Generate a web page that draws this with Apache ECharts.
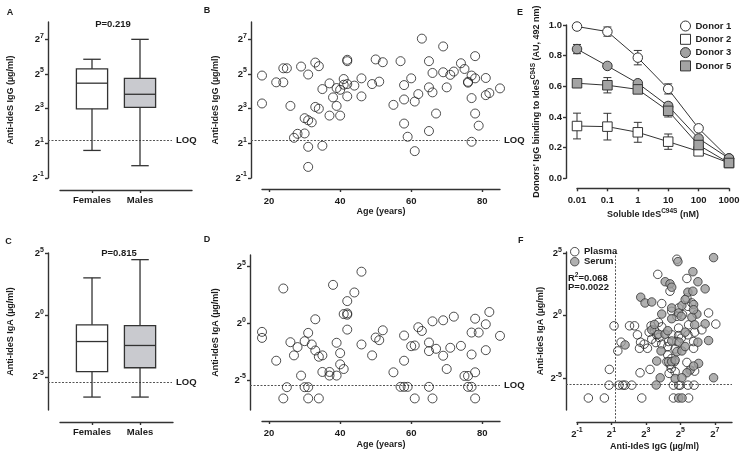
<!DOCTYPE html>
<html>
<head>
<meta charset="utf-8">
<script src="https://cdn.jsdelivr.net/npm/echarts@6/dist/echarts.min.js"></script>
<style>
  html, body { margin: 0; padding: 0; background: #fff; }
  #chart { width: 745px; height: 455px; }
</style>
</head>
<body>
<div id="chart"></div>
<script>
// antibody levels are kept as log2(µg/ml)

var sexGroups = ['Females', 'Males'];
// [min, Q1, median, Q3, max]
var igGBoxFemales = [0.59, 2.99, 4.47, 5.29, 5.85];
var igGBoxMales = [-0.29, 3.08, 3.83, 4.75, 7.0];
var igABoxFemales = [-6.65, -4.59, -2.14, -0.78, 3.03];
var igABoxMales = [-6.65, -4.27, -2.46, -0.84, 4.51];
var loqIgG = 1.22;
var loqIgA = -5.44;

var ageIgG = [18, 18, 22, 24, 24, 25, 26, 29, 31, 33, 34, 30, 31, 32, 30, 28, 27, 31, 35, 31,
  33, 34, 35, 37, 38, 39, 37, 39, 40, 41, 41, 42, 42, 42, 42, 40, 44, 46, 46, 49,
  50, 51, 52, 55, 57, 58, 60, 58, 61, 62, 63, 65, 66, 65, 66, 67, 58, 59, 65, 61,
  69, 69, 71, 72, 70, 74, 75, 76, 76, 77, 78, 78, 77, 78, 79, 77, 81, 81, 82, 85];
var igGLog2 = [4.91, 3.30, 4.52, 4.52, 5.33, 5.33, 3.16, 5.43, 4.97, 5.66, 5.45, 2.45, 2.33, 2.21, 1.57, 1.55, 1.32, 0.80, 0.86, -0.36,
  3.10, 3.00, 4.13, 4.46, 3.65, 3.16, 2.60, 4.19, 4.09, 4.71, 4.38, 4.42, 3.71, 5.82, 5.74, 2.60, 4.33, 4.75, 3.71, 4.42,
  5.84, 4.56, 5.68, 3.22, 5.74, 4.36, 4.75, 3.53, 3.41, 3.84, 7.04, 5.74, 5.06, 4.23, 3.94, 2.72, 2.14, 1.38, 1.71, 0.55,
  6.59, 5.10, 4.95, 5.14, 4.23, 5.62, 5.29, 4.55, 4.50, 4.91, 6.03, 4.75, 3.61, 2.72, 2.02, 1.09, 4.77, 3.78, 3.90, 4.17];

var ageIgA = [18, 18, 22, 24, 25, 24, 26, 28, 27, 30, 31, 32, 33, 34, 35, 33, 29, 30, 31, 31,
  34, 35, 37, 37, 38, 39, 40, 40, 41, 39, 42, 41, 42, 42, 42, 44, 46, 46, 49, 50,
  51, 52, 55, 57, 58, 59, 58, 58, 60, 61, 62, 63, 61, 65, 65, 66, 67, 65, 66, 69,
  69, 70, 71, 72, 74, 75, 76, 76, 77, 77, 78, 77, 79, 78, 78, 81, 81, 82, 85];
var igALog2 = [-0.77, -1.30, -3.31, 3.05, -5.64, -6.63, -1.68, -2.11, -2.84, -1.59, -0.86, -1.88, -2.41, -2.96, -2.84, 0.34, -4.62, -5.64, -5.64, -6.63,
  -6.63, -4.30, -4.30, -4.62, 3.37, -1.73, -2.64, -3.63, -4.04, -4.62, 1.94, 0.80, 0.86, 0.74, -0.57, 2.70, 4.53, -1.88, -2.84, -1.27,
  -1.50, -0.63, -4.33, -5.61, -5.61, -5.61, -1.09, -3.31, -2.03, -1.97, -0.36, -0.69, -6.63, -1.71, -2.46, 0.16, -2.26, -5.61, -6.63, 0.25,
  -2.87, -4.04, -2.17, 0.57, -2.00, -4.65, -4.65, -5.61, -5.61, -2.76, 0.39, -0.83, -0.83, -4.33, -6.63, -0.10, -2.38, 0.98, -1.12];

var plasmaIgG = [-0.34, 0.59, 2.76, 4.60, 5.48, 0.86, 1.44, 1.66, 1.79, 2.18, 4.60, 4.90, 4.99, 5.44, 5.80,
  0.88, 2.66, 3.24, 1.15, 2.05, 2.34, 1.37, 1.56, 2.51, 2.69, 2.90, 2.63, 3.09, 3.30, 3.73,
  3.92, 3.92, 3.69, 5.38, 3.34, 3.58, 3.77, 3.92, 4.31, 4.50, 3.19, 3.50, 3.63, 4.27, 4.70,
  4.27, 4.50, 4.40, 4.66, 4.22, 4.47, 4.35, 4.70, 4.50, 4.90, 4.80, 5.13, 5.48, 4.90, 5.44,
  5.38, 5.67, 4.80, 5.05, 4.90, 5.83, 5.77, 6.25, 5.77, 6.64, 7.06, 5.44, 5.38, 4.80, 4.40, 5.83];
var plasmaIgA = [-6.59, -6.59, -6.59, -6.59, -6.59, -5.56, -5.56, -5.56, -5.56, -5.56, -5.56, -5.56, -5.56, -5.56, -5.56,
  -4.30, -4.57, -4.30, -0.81, -0.81, -0.81, -2.82, -2.12, -1.53, -2.12, -2.28, -2.61, -2.61, -0.81, -0.54,
  -0.89, 0.97, 3.31, 2.98, -1.88, -2.15, -1.75, -2.28, -2.07, -1.53, -1.32, -1.16, -1.53, -2.47, -2.66,
  -3.15, -3.42, -3.90, -3.68, -3.68, -4.22, -4.62, -4.49, 0.35, 0.62, -0.05, 0.08, -0.73, -0.99, 0.75,
  1.42, 1.02, -2.07, -1.80, -1.59, -1.32, -2.07, -1.13, -2.61, 0.22, -0.67, -1.53, -3.74, 4.52, 1.96, -4.44];
var serumIgG = [6.93, 4.86, 5.73, 6.02, 4.12, 4.40, 4.50, 5.44, 5.73, 6.44, 2.70, 2.95, 3.34, 4.50, 5.09,
  5.28, 5.77, 5.96, 3.92, 4.50, 4.90, 5.05, 5.67, 5.83, 3.34, 3.73, 4.12, 4.50, 4.93, 5.28,
  6.44, 6.02, 6.64, 1.79, 3.88, 3.63, 4.31, 4.50, 4.70, 4.80, 5.09, 5.28, 6.06, 5.57, 5.38,
  5.77, 3.83, 4.70, 5.09, 6.93, 3.60, 4.90, 5.10, 5.77, 4.27, 3.50];
var serumIgA = [4.65, 4.33, 3.52, 2.72, 2.72, 2.55, 2.28, 1.88, 1.96, 2.15, 1.48, 1.02, 1.10, 0.62, 0.81,
  1.29, 0.89, 0.13, 0.13, -0.24, 0.22, -0.05, -0.13, -0.73, -1.13, -1.48, -1.48, -2.02, -2.12, -1.32,
  -0.65, -2.12, -1.99, -2.34, -2.82, -3.63, -3.68, -3.68, -3.55, -2.88, -2.82, -2.47, -3.82, -4.35, -4.57,
  -4.03, -4.97, -5.03, -4.97, -4.97, -5.55, -6.59, -6.59, 0.48, -1.20, -0.70];

var concNM = [0.01, 0.1, 1, 10, 100, 1000];
var donorNames = ['Donor 1', 'Donor 2', 'Donor 3', 'Donor 5'];
var donor1 = [0.99, 0.957, 0.787, 0.583, 0.326, 0.13];
var donor2 = [0.341, 0.337, 0.30, 0.239, 0.176, 0.10];
var donor3 = [0.843, 0.733, 0.62, 0.472, 0.26, 0.13];
var donor5 = [0.62, 0.607, 0.58, 0.44, 0.217, 0.10];
var donor1Err = [0.02, 0.03, 0.047, 0.033, 0.0, 0.0];
var donor2Err = [0.084, 0.087, 0.065, 0.05, 0.01, 0.0];
var donor3Err = [0.03, 0.01, 0.0, 0.02, 0.0, 0.0];
var donor5Err = [0.025, 0.05, 0.02, 0.04, 0.015, 0.0];

// ---- styling ----
var FONT = '"Liberation Sans", Arial, Helvetica, sans-serif';
var AX = '#333333';
var TXT = '#1c1c1c';
var BOX_SLOT = [2, 5];           // x positions of the two boxes
var boxFills = ['#ffffff', '#c9cacf'];

var supRich = {
  b: {fontFamily: FONT, fontSize: 9.5, fontWeight: 'bold', color: TXT},
  s: {fontFamily: FONT, fontSize: 7, fontWeight: 'bold', color: TXT, verticalAlign: 'top', padding: [0, 0, 7, 0]}
};
var nameStyle = {
  fontFamily: FONT, fontSize: 9, fontWeight: 'bold', color: TXT,
  rich: {s: {fontFamily: FONT, fontSize: 6.5, fontWeight: 'bold', color: TXT, verticalAlign: 'top', padding: [0, 0, 7, 0]}}
};
function pow2(v) { return '{b|2}{s|' + v + '}'; }

function axisBase(gi, offset) {
  return {
    gridIndex: gi, offset: offset,
    axisLine: {show: true, onZero: false, lineStyle: {color: AX, width: 1.4}},
    axisTick: {show: true, length: 3, lineStyle: {color: AX, width: 1.4}},
    splitLine: {show: false},
    nameLocation: 'middle', nameMoveOverlap: false, nameTextStyle: nameStyle
  };
}
function log2Axis(gi, offset, min, max, ticks, name, nameGap, margin) {
  var a = axisBase(gi, offset);
  a.type = 'value'; a.min = min; a.max = max;
  a.axisTick.customValues = ticks;
  a.axisLabel = {customValues: ticks, margin: margin, formatter: pow2, rich: supRich};
  a.name = name; a.nameGap = nameGap;
  return a;
}
function plainAxis(gi, offset, extra) {
  var a = axisBase(gi, offset);
  a.axisLabel = {fontFamily: FONT, fontSize: 9.5, fontWeight: 'bold', color: TXT, margin: 7};
  for (var k in extra) {
    if (k === 'axisLabel') Object.assign(a.axisLabel, extra[k]);
    else if (k === 'axisTick') Object.assign(a.axisTick, extra[k]);
    else a[k] = extra[k];
  }
  return a;
}

function pairs(xs, ys) { return xs.map(function (x, i) { return [x, ys[i]]; }); }

function renderBox(params, api) {
  var x = api.value(0);
  var p = [1, 2, 3, 4, 5].map(function (i) { return api.coord([x, api.value(i)]); });
  var w = api.size([1.95, 0])[0];
  var cx = p[0][0];
  var cap = w * 0.28;
  var st = {stroke: AX, lineWidth: 1.3};
  return {type: 'group', children: [
    {type: 'line', shape: {x1: cx, y1: p[0][1], x2: cx, y2: p[4][1]}, style: st},
    {type: 'rect', shape: {x: cx - w / 2, y: p[3][1], width: w, height: p[1][1] - p[3][1]},
      style: {fill: boxFills[params.dataIndex], stroke: AX, lineWidth: 1.3}},
    {type: 'line', shape: {x1: cx - w / 2, y1: p[2][1], x2: cx + w / 2, y2: p[2][1]}, style: st},
    {type: 'line', shape: {x1: cx - cap, y1: p[0][1], x2: cx + cap, y2: p[0][1]}, style: st},
    {type: 'line', shape: {x1: cx - cap, y1: p[4][1], x2: cx + cap, y2: p[4][1]}, style: st}
  ]};
}
function boxSeries(gi, females, males) {
  return {
    type: 'custom', xAxisIndex: gi, yAxisIndex: gi, silent: true,
    encode: {x: 0, y: [1, 2, 3, 4, 5]},
    data: [[BOX_SLOT[0]].concat(females), [BOX_SLOT[1]].concat(males)],
    renderItem: renderBox
  };
}

var dashStyle = {stroke: '#555', lineWidth: 1, lineDash: [2, 1.5]};
function loqSeries(gi, xAt, loq, padLeft, trimRight) {
  return {
    type: 'custom', xAxisIndex: gi, yAxisIndex: gi, silent: true, z: 1,
    encode: {x: 0, y: 1}, data: [[xAt, loq]],
    renderItem: function (params, api) {
      var cs = params.coordSys;
      var y = Math.round(api.coord([api.value(0), api.value(1)])[1]) + 0.5;
      var x2 = cs.x + cs.width - trimRight;
      return {type: 'group', children: [
        {type: 'line', shape: {x1: cs.x - padLeft, y1: y, x2: x2, y2: y}, style: dashStyle},
        {type: 'text', x: x2 + 4, y: y, style: {text: 'LOQ', fontFamily: FONT, fontSize: 9.5, fontWeight: 'bold',
          fill: TXT, align: 'left', verticalAlign: 'middle'}}
      ]};
    }
  };
}

function openScatter(gi, name, data, size) {
  return {
    type: 'scatter', name: name, xAxisIndex: gi, yAxisIndex: gi, data: data, symbol: 'circle',
    symbolSize: size, silent: true,
    itemStyle: {color: 'rgba(255,255,255,0)', borderColor: '#222', borderWidth: 1}
  };
}

var donorData = [donor1, donor2, donor3, donor5];
var donorErr = [donor1Err, donor2Err, donor3Err, donor5Err];
var donorSymbols = ['circle', 'rect', 'circle', 'rect'];
var donorFills = ['#ffffff', '#ffffff', '#a3a3a3', '#a3a3a3'];

var errRows = [];
donorData.forEach(function (d, k) {
  concNM.forEach(function (c, i) { errRows.push([c, d[i], donorErr[k][i]]); });
});

var series = [
  boxSeries(0, igGBoxFemales, igGBoxMales),
  loqSeries(0, 0, loqIgG, 12, 20),
  openScatter(1, 'IgG age', pairs(ageIgG, igGLog2), 9),
  loqSeries(1, 20, loqIgG, 11, 0),
  boxSeries(2, igABoxFemales, igABoxMales),
  loqSeries(2, 0, loqIgA, 12, 1),
  openScatter(3, 'IgA age', pairs(ageIgA, igALog2), 9),
  loqSeries(3, 20, loqIgA, 12, 0),
  {
    type: 'custom', xAxisIndex: 4, yAxisIndex: 4, silent: true, z: 2,
    encode: {x: 0, y: 1}, data: errRows,
    renderItem: function (params, api) {
      var c = api.value(0), v = api.value(1), e = api.value(2);
      var t = api.coord([c, v + e]), b = api.coord([c, v - e]);
      var st = {stroke: AX, lineWidth: 1};
      return {type: 'group', children: [
        {type: 'line', shape: {x1: t[0], y1: t[1], x2: b[0], y2: b[1]}, style: st},
        {type: 'line', shape: {x1: t[0] - 4, y1: t[1], x2: t[0] + 4, y2: t[1]}, style: st},
        {type: 'line', shape: {x1: b[0] - 4, y1: b[1], x2: b[0] + 4, y2: b[1]}, style: st}
      ]};
    }
  },
  {
    type: 'custom', xAxisIndex: 5, yAxisIndex: 5, silent: true, z: 1,
    encode: {x: 0, y: 1}, data: [[loqIgG, loqIgA]],
    renderItem: function (params, api) {
      var cs = params.coordSys;
      var p = api.coord([api.value(0), api.value(1)]);
      var x = Math.round(p[0]) + 0.5, y = Math.round(p[1]) + 0.5;
      return {type: 'group', children: [
        {type: 'line', shape: {x1: x, y1: cs.y + cs.height + 12, x2: x, y2: cs.y}, style: dashStyle},
        {type: 'line', shape: {x1: cs.x - 11, y1: y, x2: cs.x + cs.width, y2: y}, style: dashStyle}
      ]};
    }
  },
  openScatter(5, 'Plasma', pairs(plasmaIgG, plasmaIgA), 8.5),
  {
    type: 'scatter', name: 'Serum', xAxisIndex: 5, yAxisIndex: 5, silent: true,
    data: pairs(serumIgG, serumIgA), symbol: 'circle', symbolSize: 8.5,
    itemStyle: {color: '#9c9c9c', borderColor: '#333', borderWidth: 1}
  }
];

donorData.forEach(function (d, k) {
  series.push({
    type: 'line', name: donorNames[k], xAxisIndex: 4, yAxisIndex: 4, z: 3,
    data: pairs(concNM, d), symbol: donorSymbols[k], symbolSize: 9.5,
    lineStyle: {color: AX, width: 1},
    itemStyle: {color: donorFills[k], borderColor: AX, borderWidth: 1}
  });
});

function txt(x, y, text, extra) {
  return {type: 'text', x: x, y: y, silent: true, style: Object.assign({
    text: text, fontFamily: FONT, fontSize: 9.5, fontWeight: 'bold', fill: TXT,
    align: 'center', verticalAlign: 'middle'
  }, extra || {})};
}

var boxLabel = {
  customValues: BOX_SLOT, margin: 5,
  formatter: function (v) { return sexGroups[BOX_SLOT.indexOf(v)]; }
};

var option = {
  animation: false,
  backgroundColor: '#ffffff',
  grid: [
    {left: 60, top: 22, width: 132, height: 156, outerBoundsMode: 'none'},
    {left: 262, top: 22, width: 238, height: 156, outerBoundsMode: 'none'},
    {left: 60, top: 253, width: 113, height: 157, outerBoundsMode: 'none'},
    {left: 262, top: 255, width: 238, height: 155, outerBoundsMode: 'none'},
    {left: 577, top: 25, width: 152, height: 153.3, outerBoundsMode: 'none'},
    {left: 577, top: 252, width: 155, height: 158, outerBoundsMode: 'none'}
  ],
  xAxis: [
    plainAxis(0, 12, {type: 'value', min: 0, max: 8.25, axisLabel: boxLabel, axisTick: {customValues: BOX_SLOT}}),
    plainAxis(1, 11, {type: 'value', min: 18, max: 85, name: 'Age (years)', nameGap: 18,
      axisLabel: {customValues: [20, 40, 60, 80]}, axisTick: {customValues: [20, 40, 60, 80]}}),
    plainAxis(2, 12, {type: 'value', min: 0, max: 7.06, axisLabel: boxLabel, axisTick: {customValues: BOX_SLOT}}),
    plainAxis(3, 11, {type: 'value', min: 18, max: 85, name: 'Age (years)', nameGap: 19,
      axisLabel: {customValues: [20, 40, 60, 80]}, axisTick: {customValues: [20, 40, 60, 80]}}),
    plainAxis(4, 10, {type: 'log', logBase: 10, min: 0.01, max: 1000, name: 'Soluble IdeS{s|C94S} (nM)', nameGap: 19,
      axisLabel: {formatter: function (v) { return String(parseFloat(Number(v).toPrecision(6))); }}}),
    log2Axis(5, 12, -1, 8, [-1, 1, 3, 5, 7], 'Anti-IdeS IgG (µg/ml)', 20, 5)
  ],
  yAxis: [
    log2Axis(0, 12, -1, 8, [-1, 1, 3, 5, 7], 'Anti-IdeS IgG (µg/ml)', 33, 4),
    log2Axis(1, 11, -1, 8, [-1, 1, 3, 5, 7], 'Anti-IdeS IgG (µg/ml)', 31, 4),
    log2Axis(2, 12, -7.7, 5.05, [-5, 0, 5], 'Anti-IdeS IgA (µg/ml)', 33, 4),
    log2Axis(3, 12, -7.65, 6, [-5, 0, 5], 'Anti-IdeS IgA (µg/ml)', 30, 4),
    plainAxis(4, 11, {type: 'value', min: 0, max: 1, interval: 0.2, name: "Donors' IgG binding to IdeS{s|C94S} (AU, 492 nm)",
      nameGap: 22, axisLabel: {margin: 4, formatter: function (v) { return v.toFixed(1); }}}),
    log2Axis(5, 11, -7.55, 5.1, [-5, 0, 5], 'Anti-IdeS IgA (µg/ml)', 21, 4)
  ],
  legend: [
    {
      data: [{name: 'Donor 1', icon: 'circle'}, {name: 'Donor 2', icon: 'rect'},
        {name: 'Donor 3', icon: 'circle'}, {name: 'Donor 5', icon: 'rect'}],
      orient: 'vertical', left: 680, top: 20.5, padding: 0, itemWidth: 10, itemHeight: 10, itemGap: 2.3,
      selectedMode: false, itemStyle: {borderWidth: 1},
      textStyle: {fontFamily: FONT, fontSize: 9.5, fontWeight: 'bold', color: TXT, lineHeight: 11}
    },
    {
      data: [{name: 'Plasma', icon: 'circle'}, {name: 'Serum', icon: 'circle'}],
      orient: 'vertical', left: 570, top: 246.7, padding: 0, itemWidth: 8.5, itemHeight: 8.5, itemGap: 0,
      selectedMode: false, itemStyle: {borderWidth: 1},
      textStyle: {fontFamily: FONT, fontSize: 9.5, fontWeight: 'bold', color: TXT, lineHeight: 10}
    }
  ],
  graphic: [
    txt(10, 13, 'A', {fontSize: 9}),
    txt(207, 11, 'B', {fontSize: 9}),
    txt(520, 13, 'E', {fontSize: 9}),
    txt(8.5, 241.7, 'C', {fontSize: 9}),
    txt(207, 240, 'D', {fontSize: 9}),
    txt(520.7, 240.7, 'F', {fontSize: 9}),
    txt(113, 24, 'P=0.219'),
    txt(119, 253, 'P=0.815'),
    txt(568, 278, 'R{s|2}=0.068', {align: 'left', rich: {s: {fontFamily: FONT, fontSize: 6.5, fontWeight: 'bold', fill: TXT, verticalAlign: 'top', padding: [0, 0, 6, 0]}}}),
    txt(568, 287.5, 'P=0.0022', {align: 'left'})
  ],
  series: series
};

var chart = echarts.init(document.getElementById('chart'));
chart.setOption(option);
</script>
</body>
</html>
